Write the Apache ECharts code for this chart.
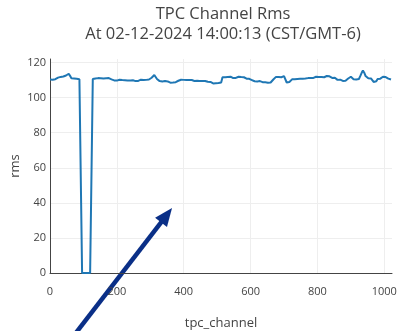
<!DOCTYPE html>
<html>
<head>
<meta charset="utf-8">
<script src="https://cdn.jsdelivr.net/npm/echarts@6/dist/echarts.min.js"></script>
<style>
  html, body { margin: 0; padding: 0; background: #fff; }
  #chart { width: 397px; height: 331px; }
</style>
</head>
<body>
<div id="chart"></div>
<script>
// RMS per TPC channel, sampled every 4 channels (channel 0 .. 1020)
const channelStep = 4;
const rms = [
  110.3, 110.6, 110.2, 110.8, 110.5, 111.0, 111.4, 111.2, 111.8, 111.5, 112.0, 112.3, 112.6, 113.2, 113.6, 112.4,
  111.0, 110.6, 110.9, 110.4, 110.7, 110.3, 110.5, 110.2, 0, 0, 0, 0, 0, 0, 0, 0,
  110.6, 110.4, 110.9, 110.7, 111.1, 110.8, 111.0, 111.2, 110.9, 111.3, 111.0, 110.7, 111.1, 110.8, 110.4, 110.1,
  109.8, 110.0, 109.7, 109.9, 110.2, 109.8, 110.0, 109.6, 109.9, 110.1, 109.7, 110.0, 109.8, 109.5, 109.9, 109.6,
  109.4, 109.8, 109.5, 109.9, 110.2, 109.7, 110.0, 110.4, 110.1, 110.6, 110.3, 110.8, 111.3, 112.2, 112.9, 112.0,
  110.6, 109.8, 109.4, 109.7, 109.2, 109.0, 109.4, 108.9, 109.2, 108.8, 108.5, 108.9, 108.6, 108.4, 108.8, 109.3,
  109.6, 109.9, 110.2, 109.8, 110.1, 110.4, 110.0, 110.3, 110.1, 109.7, 110.0, 109.8, 109.5, 109.9, 109.6, 109.8,
  109.5, 109.8, 109.4, 109.7, 109.5, 109.2, 109.0, 108.7, 108.9, 108.4, 108.1, 108.5, 108.2, 107.9, 108.3, 108.0,
  108.6, 111.6, 112.0, 111.6, 112.2, 111.8, 111.5, 111.9, 111.4, 111.1, 111.5, 111.2, 111.6, 111.9, 111.5, 111.7,
  111.3, 111.6, 111.2, 110.8, 111.1, 110.7, 110.5, 110.0, 109.6, 109.3, 109.6, 109.2, 109.0, 109.4, 109.1, 108.8,
  109.1, 108.7, 108.9, 108.5, 108.8, 108.6, 109.4, 110.3, 111.2, 111.8, 112.1, 111.7, 112.0, 111.6, 111.9, 112.2,
  111.5, 108.6, 108.2, 108.9, 109.6, 110.4, 110.9, 110.5, 110.2, 110.6, 110.3, 110.7, 110.4, 110.8, 110.5, 110.9,
  110.7, 111.1, 110.8, 111.2, 111.5, 111.2, 111.6, 111.9, 111.5, 111.8, 112.1, 111.7, 111.9, 111.6, 112.0, 112.3,
  112.6, 112.1, 111.8, 111.2, 110.9, 111.3, 110.6, 110.1, 109.8, 110.2, 109.7, 109.5, 109.9, 109.6, 110.3, 110.9,
  111.5, 111.9, 111.4, 110.5, 109.9, 110.3, 109.8, 110.6, 112.2, 114.0, 115.4, 114.2, 112.3, 111.6, 111.0, 110.6,
  110.9, 110.2, 108.9, 108.1, 109.3, 110.6, 111.2, 110.8, 111.5, 111.9, 111.4, 111.7, 111.2, 110.8, 110.4, 110.3
];
const channels = rms.map((_, i) => i * channelStep);

// Axis settings
const xMax = 1023;
const yMax = 122;
const tickStep = { x: 200, y: 20 };

// Pointer annotation, given in data coordinates [channel, rms]
const pointerFrom = [66, -37];
const pointerTo = [365, 37];

const titleLines = ['TPC Channel Rms', 'At 02-12-2024 14:00:13 (CST/GMT-6)'];

const font = "'Open Sans', 'Liberation Sans', sans-serif";
const textColor = '#444';
const plainNumber = v => String(v);

const chart = echarts.init(document.getElementById('chart'), null, { renderer: 'canvas' });
chart.setOption({
  animation: false,
  backgroundColor: '#fff',
  title: {
    text: titleLines.join('\n'),
    left: 218,
    top: -1,
    textAlign: 'center',
    textStyle: {
      fontFamily: font,
      fontSize: 16.5,
      fontWeight: 'normal',
      color: textColor,
      lineHeight: 20
    }
  },
  grid: { left: 50, right: 5, top: 59, bottom: 58, containLabel: false, outerBoundsMode: 'none' },
  xAxis: {
    type: 'value',
    min: 0,
    max: xMax,
    interval: tickStep.x,
    name: 'tpc_channel',
    nameLocation: 'middle',
    nameGap: 44,
    nameTextStyle: { fontFamily: font, fontSize: 13, color: textColor },
    axisLine: { show: true, lineStyle: { color: '#444', width: 1 } },
    axisTick: { show: false },
    axisLabel: { fontFamily: font, fontSize: 11, color: textColor, margin: 13, showMaxLabel: false, formatter: plainNumber },
    splitLine: { show: true, showMaxLine: false, lineStyle: { color: '#eeeeee', width: 1 } }
  },
  yAxis: {
    type: 'value',
    min: 0,
    max: yMax,
    interval: tickStep.y,
    name: 'rms',
    nameLocation: 'middle',
    nameGap: 28,
    nameMoveOverlap: false,
    nameTextStyle: { fontFamily: font, fontSize: 13, color: textColor },
    axisLine: { show: true, lineStyle: { color: '#444', width: 1 } },
    axisTick: { show: false },
    axisLabel: { fontFamily: font, fontSize: 11, color: textColor, margin: 4, showMaxLabel: false, formatter: plainNumber },
    splitLine: { show: true, showMaxLine: false, lineStyle: { color: '#eeeeee', width: 1 } }
  },
  series: [{
    type: 'line',
    data: channels.map((c, i) => [c, rms[i]]),
    showSymbol: false,
    lineStyle: { color: '#1f77b4', width: 2 },
    itemStyle: { color: '#1f77b4' }
  }]
});

// Arrow annotation: shaft plus a filled head, placed through the axes' scales
function drawPointer() {
  const a = chart.convertToPixel({ xAxisIndex: 0, yAxisIndex: 0 }, pointerFrom);
  const b = chart.convertToPixel({ xAxisIndex: 0, yAxisIndex: 0 }, pointerTo);
  const dx = b[0] - a[0], dy = b[1] - a[1];
  const len = Math.hypot(dx, dy);
  const ux = dx / len, uy = dy / len;
  const headLen = 18, headHalf = 7.5;
  const base = [b[0] - ux * headLen, b[1] - uy * headLen];
  const color = '#0a2f87';
  chart.setOption({
    graphic: [{
      type: 'group',
      silent: true,
      children: [
        {
          type: 'line',
          shape: { x1: a[0], y1: a[1], x2: base[0] + ux * 2, y2: base[1] + uy * 2 },
          style: { stroke: color, lineWidth: 4.5 }
        },
        {
          type: 'polygon',
          shape: {
            points: [
              b,
              [base[0] - uy * headHalf, base[1] + ux * headHalf],
              [base[0] + uy * headHalf, base[1] - ux * headHalf]
            ]
          },
          style: { fill: color }
        }
      ]
    }]
  });
}
drawPointer();
</script>
</body>
</html>
